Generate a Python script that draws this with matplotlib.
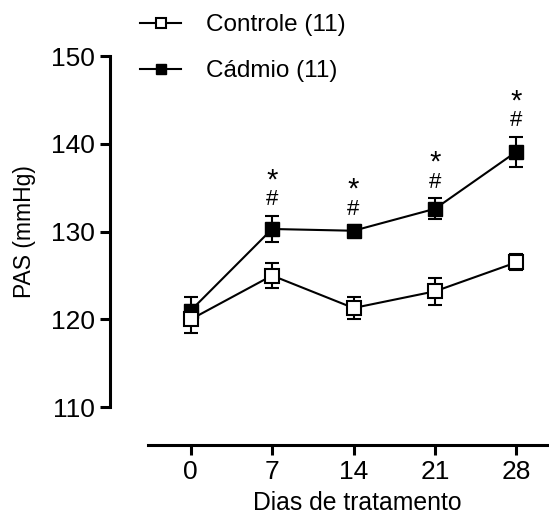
import numpy as np
import matplotlib.pyplot as plt
from matplotlib.lines import Line2D

plt.rcParams['font.family'] = ['Liberation Sans', 'DejaVu Sans']

dias = [0, 7, 14, 21, 28]
controle = [120.0, 125.0, 121.3, 123.2, 126.5]
controle_ep = [1.6, 1.45, 1.25, 1.55, 0.9]
cadmio = [121.0, 130.3, 130.1, 132.6, 139.1]
cadmio_ep = [1.6, 1.5, 0.6, 1.2, 1.7]
# marcas de significancia acima de cada ponto do cadmio
marcas = [False, True, True, True, True]

dias = np.asarray(dias)

fig = plt.figure(figsize=(5.49, 5.24), dpi=100)
ax = fig.add_axes([110/549, 79/524, 439/549, 389/524])

# cadmio first so the open squares sit on top at day 0
ax.errorbar(dias, cadmio, yerr=cadmio_ep, fmt='-s', color='black',
            mfc='black', mec='black', ms=9.5, lw=1.5, elinewidth=1.5,
            capsize=4.7, capthick=1.5, zorder=3)
ax.errorbar(dias, controle, yerr=controle_ep, fmt='-s', color='black',
            mfc='white', mec='black', mew=1.5, ms=9.5, lw=1.5, elinewidth=1.5,
            capsize=4.7, capthick=1.5, zorder=4)

for d, v, e, m in zip(dias, cadmio, cadmio_ep, marcas):
    if not m:
        continue
    ax.annotate('#', (d, v + e), xytext=(0, 11.5), textcoords='offset points',
                ha='center', va='center', fontsize=16)
    ax.annotate('*', (d, v + e), xytext=(0, 25.5), textcoords='offset points',
                ha='center', va='center', fontsize=21)

ax.set_xlim(-6.93, 30.8)
ax.set_ylim(105.7, 150)
ax.set_xticks(dias)
ax.set_yticks([110, 120, 130, 140, 150])
for s in ['top', 'right']:
    ax.spines[s].set_visible(False)
ax.spines['left'].set_bounds(110, 150)
ax.spines['bottom'].set_bounds(-3.67, 30.8)
for s in ['left', 'bottom']:
    ax.spines[s].set_linewidth(2.2)
ax.tick_params(width=2.2, length=7, labelsize=19, pad=4)

ax.set_xlabel('Dias de tratamento', fontsize=17.8)
ax.xaxis.set_label_coords(0.5626, -0.118)
ax.xaxis.label.set_va('top')
ax.set_ylabel('PAS (mmHg)', fontsize=16.5)
ax.yaxis.set_label_coords(-0.168, 0.549)

handles = [
    Line2D([], [], color='black', lw=1.5, marker='s', mfc='white',
           mec='black', mew=1.5, ms=7.5),
    Line2D([], [], color='black', lw=1.5, marker='s', mfc='black',
           mec='black', ms=7.5),
]
fig.legend(handles, ['Controle (11)', 'Cádmio (11)'], loc='upper left',
           bbox_to_anchor=(140/549, 1 - 14/524), frameon=False,
           fontsize=17.5, handlelength=1.7, handletextpad=1.0,
           labelspacing=1.0, borderpad=0, borderaxespad=0)

fig.savefig('out.png', dpi=100)
